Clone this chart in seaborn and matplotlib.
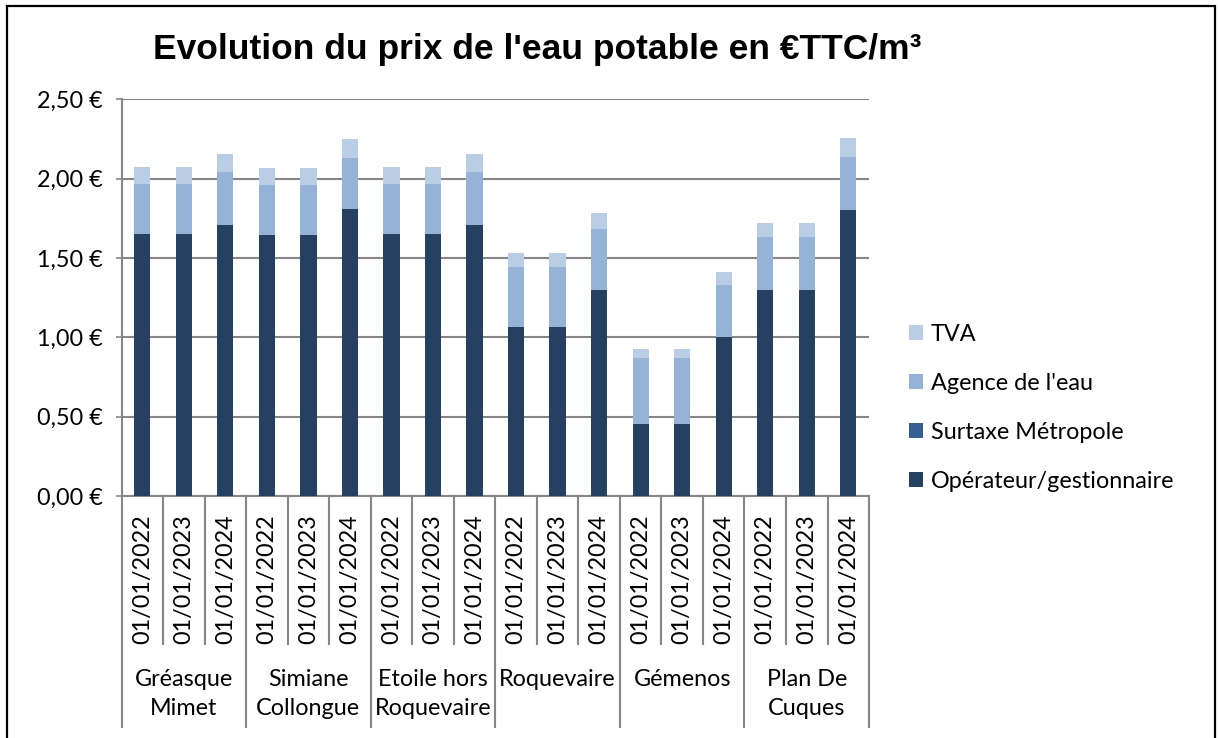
import pandas as pd
import seaborn as sns
import matplotlib.pyplot as plt
import matplotlib.transforms as mtransforms
from matplotlib.patches import Patch, Rectangle

# data (€ TTC / m3)
communes = ["Gréasque\nMimet", "Simiane\nCollongue", "Etoile hors\nRoquevaire",
            "Roquevaire", "Gémenos", "Plan De\nCuques"]
dates = ["01/01/2022", "01/01/2023", "01/01/2024"]

operateur = [1.65, 1.65, 1.71, 1.645, 1.645, 1.81, 1.65, 1.65, 1.71,
             1.065, 1.065, 1.30, 0.455, 0.455, 1.00, 1.30, 1.30, 1.80]
surtaxe = [0.0] * 18
agence = [0.315, 0.315, 0.33, 0.315, 0.315, 0.32, 0.315, 0.315, 0.33,
          0.38, 0.38, 0.385, 0.415, 0.415, 0.33, 0.33, 0.33, 0.335]
tva = [0.11, 0.11, 0.115, 0.11, 0.11, 0.12, 0.11, 0.11, 0.115,
       0.085, 0.085, 0.10, 0.055, 0.055, 0.08, 0.09, 0.09, 0.12]

y_ticks = [0, 0.5, 1.0, 1.5, 2.0, 2.5]

series = ["Opérateur/gestionnaire", "Surtaxe Métropole", "Agence de l'eau", "TVA"]
colors = {"Opérateur/gestionnaire": "#264061", "Surtaxe Métropole": "#376092",
          "Agence de l'eau": "#95b3d7", "TVA": "#b9cde5"}

df = pd.DataFrame({"id": [str(i) for i in range(18)],
                   "Opérateur/gestionnaire": operateur,
                   "Surtaxe Métropole": surtaxe,
                   "Agence de l'eau": agence,
                   "TVA": tva})
cum = df[series].cumsum(axis=1)
cum["id"] = df["id"]

FS = 16.8

plt.rcParams["font.family"] = ["Lato", "DejaVu Sans"]
fig = plt.figure(figsize=(12.18, 7.38), dpi=100)
ax = fig.add_axes([0.0998, 0.3279, 0.6137, 0.5375])

# stacked bars: draw cumulative totals from top layer down
for s in reversed(series):
    sns.barplot(data=cum, x="id", y=s, color=colors[s], width=0.39,
                order=df["id"].tolist(), saturation=1, ax=ax, zorder=3)

ax.set_xlim(-0.5, 17.5)
ax.set_ylim(0, 2.5)
ax.set_yticks(y_ticks)
ax.set_yticklabels([f"{v:.2f} €".replace(".", ",") for v in y_ticks], fontsize=FS)
ax.tick_params(axis="y", length=4.5, width=1.2, color="#868686", pad=9)
ax.set_xticks(range(18))
ax.set_xticklabels(dates * 6, rotation=90, fontsize=FS)
ax.tick_params(axis="x", length=0, pad=13)
ax.set_xlabel("")
ax.set_ylabel("")
ax.grid(axis="y", color="#868686", linewidth=1.5, zorder=0)
ax.set_axisbelow(True)
for side in ["top", "right"]:
    ax.spines[side].set_visible(False)
for side in ["left", "bottom"]:
    ax.spines[side].set_color("#868686")
    ax.spines[side].set_linewidth(1.5)

# category separators below the axis
trans = mtransforms.blended_transform_factory(ax.transData, ax.transAxes)
for i in range(19):
    x = i - 0.5
    depth = 0.582 if i % 3 == 0 else 0.373
    ax.plot([x, x], [0, -depth], transform=trans, color="#868686",
            linewidth=1.5, clip_on=False)

for g, name in enumerate(communes):
    ax.text(3 * g + 1, -0.435, name, transform=trans, ha="center", va="top",
            fontsize=FS, linespacing=1.5)

handles = [Patch(facecolor=colors[s], label=s) for s in reversed(series)]
fig.legend(handles=handles, loc="upper left", bbox_to_anchor=(0.746, 0.561),
           frameon=False, fontsize=FS, handlelength=0.6, handleheight=0.6,
           handletextpad=0.35, labelspacing=1.2, borderaxespad=0, borderpad=0)

fig.text(0.441, 0.933, "Evolution du prix de l'eau potable en €TTC/m³",
         ha="center", va="center", fontsize=25.5, fontweight="bold",
         family=["Liberation Sans", "DejaVu Sans"])

fig.patches.append(Rectangle((7 / 1218, -0.02), 1208 / 1218, 1.02 - 6 / 738,
                             transform=fig.transFigure, fill=False,
                             edgecolor="black", linewidth=1.6))

fig.savefig("out.png", dpi=100)
